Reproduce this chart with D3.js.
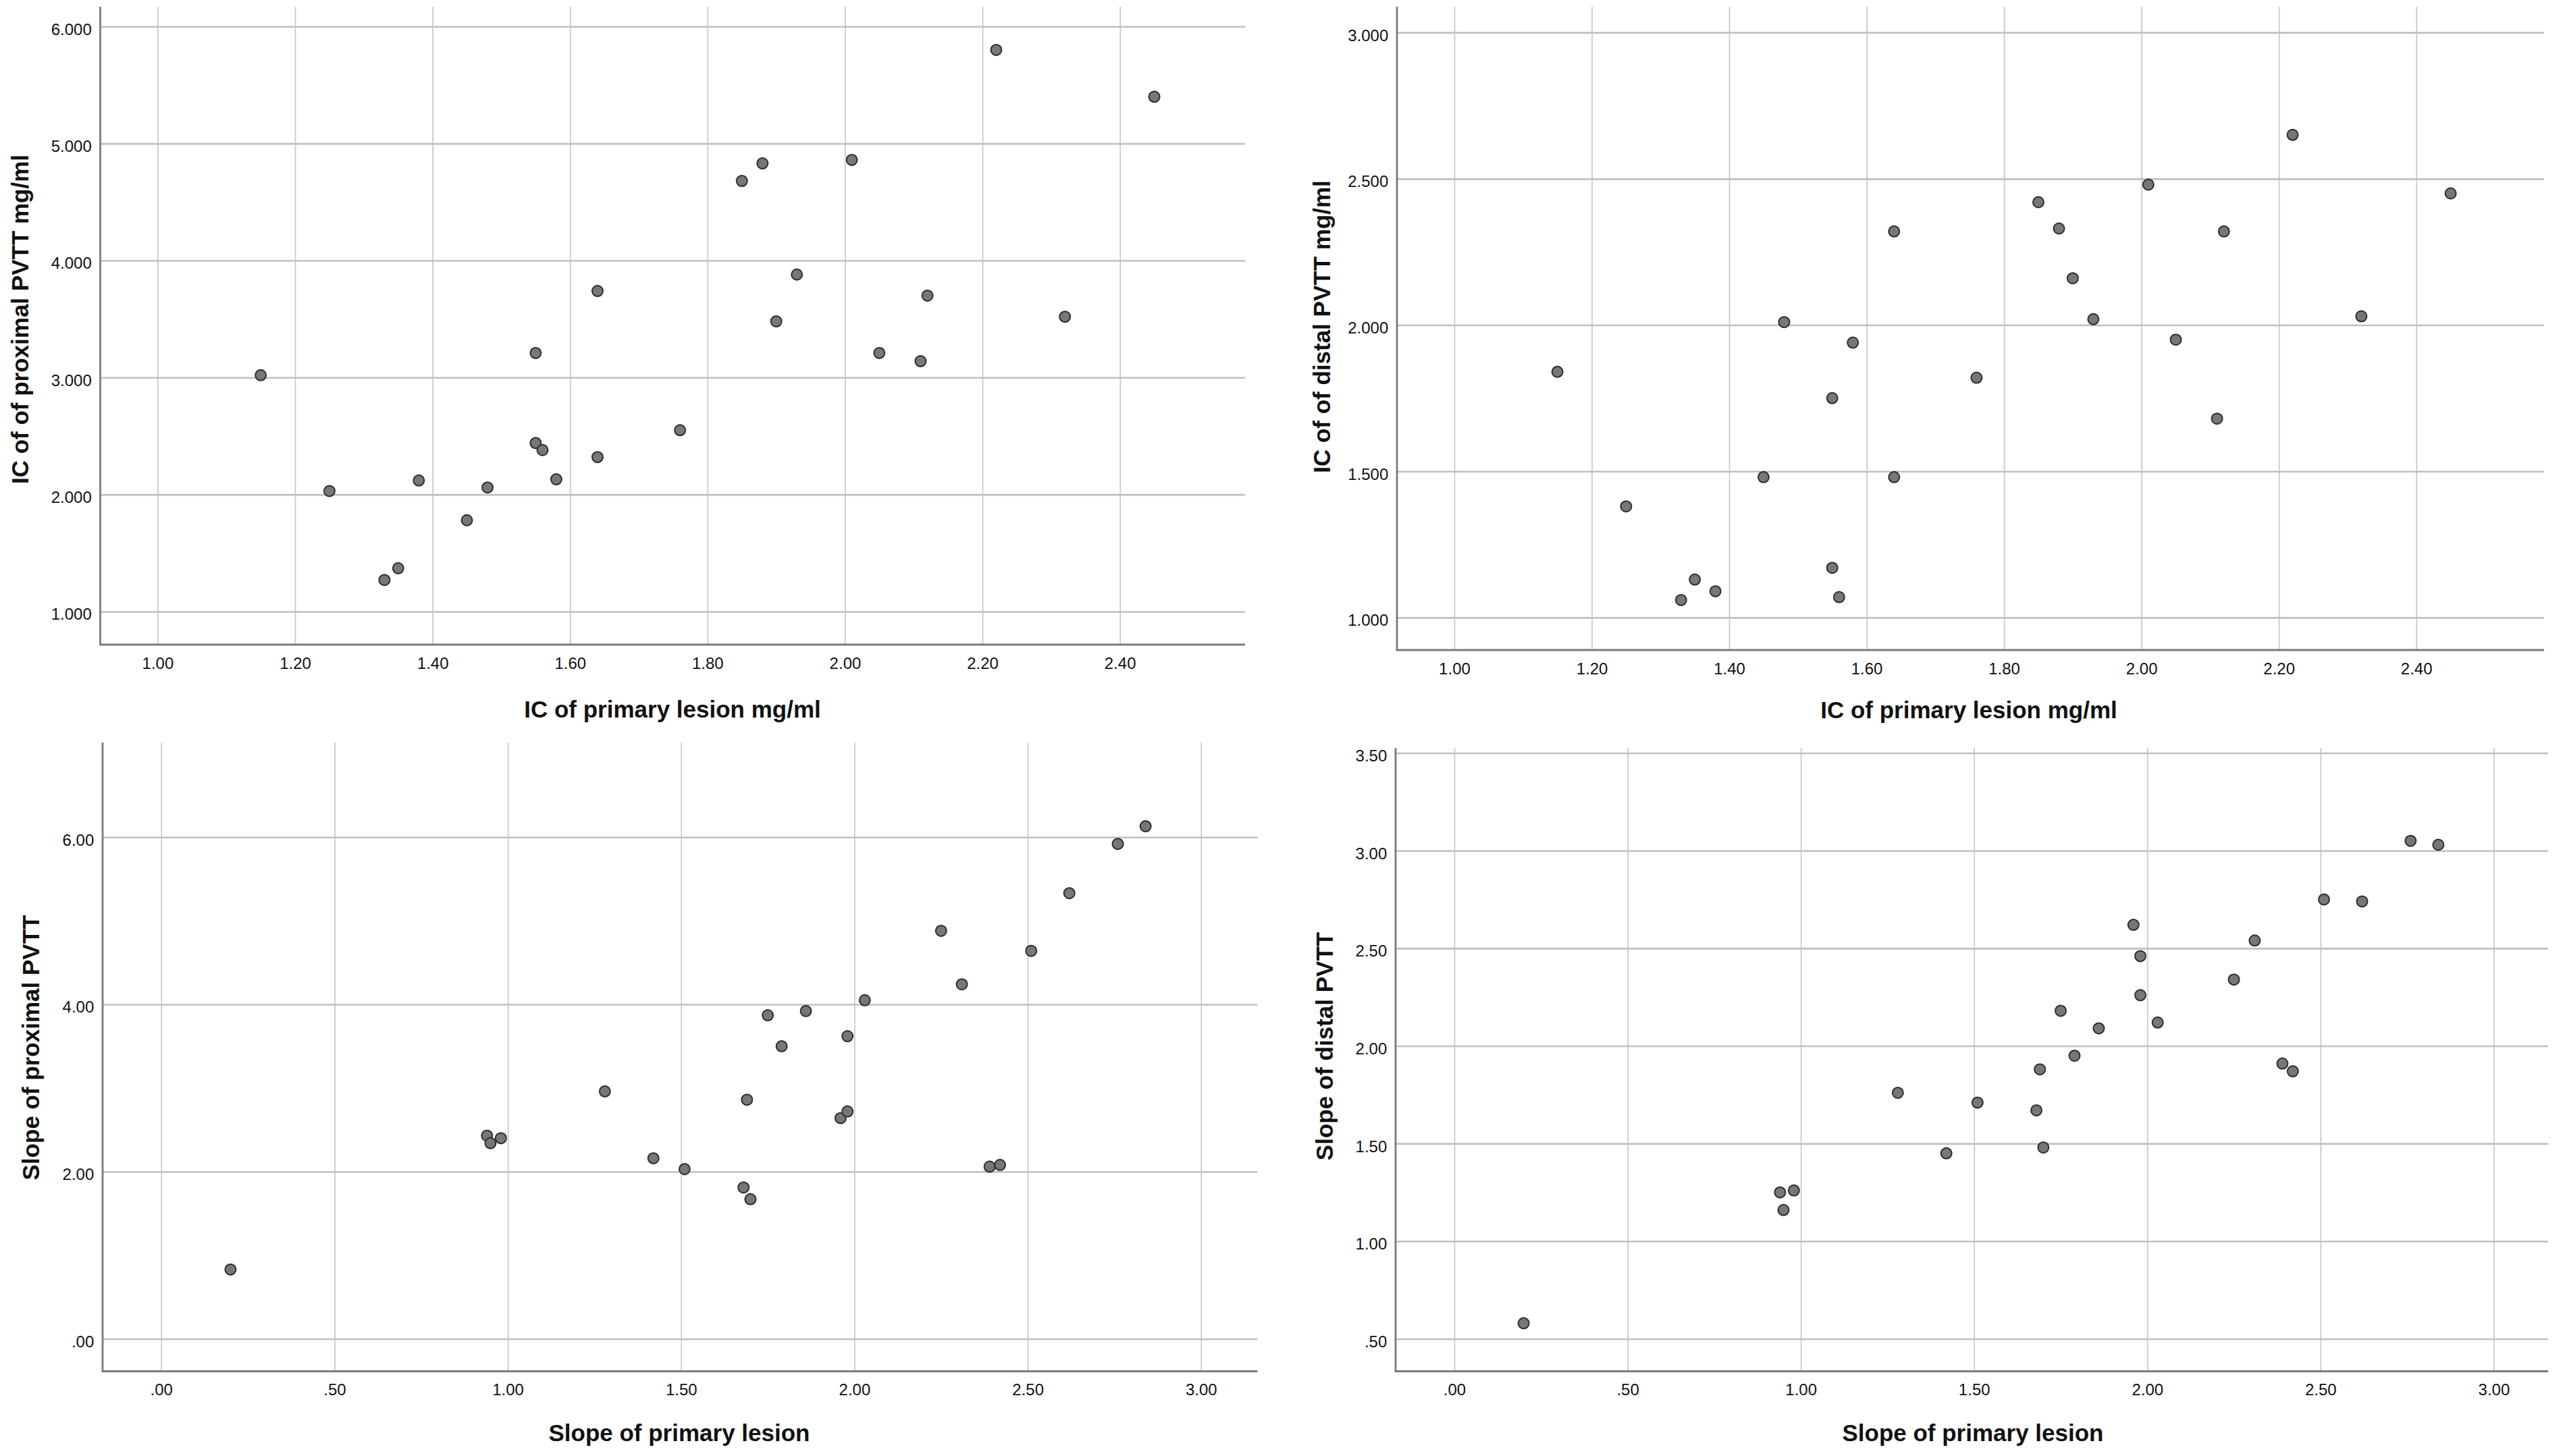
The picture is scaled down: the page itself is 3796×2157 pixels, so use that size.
<!DOCTYPE html>
<html>
<head>
<meta charset="utf-8">
<script src="https://cdnjs.cloudflare.com/ajax/libs/d3/7.8.5/d3.min.js"></script>
<style>
  body { margin: 0; background: #ffffff; }
  .tickLabel { font-family: "Liberation Sans", Arial, sans-serif; font-size: 24px; fill: #111111; }
  .axisTitle { font-family: "Liberation Sans", Arial, sans-serif; font-size: 35px; font-weight: bold; fill: #111111; }
</style>
</head>
<body>
<div id="chart"></div>
<script>

//--------------------------------------------------------------------------
//
// Data
//

var icPrimary     = [1.15, 1.25, 1.33, 1.35, 1.38, 1.45, 1.48, 1.55, 1.56, 1.55, 1.58, 1.64, 1.64,
                     1.76, 1.85, 1.88, 1.90, 1.93, 2.01, 2.05, 2.11, 2.12, 2.22, 2.32, 2.45];
var icProximal    = [3.02, 2.03, 1.27, 1.37, 2.12, 1.78, 2.06, 2.44, 2.38, 3.21, 2.13, 2.32, 3.74,
                     2.55, 4.68, 4.83, 3.48, 3.88, 4.86, 3.21, 3.14, 3.70, 5.80, 3.52, 5.40];
var icDistal      = [1.84, 1.38, 1.06, 1.13, 1.09, 1.48, 2.01, 1.75, 1.07, 1.17, 1.94, 1.48, 2.32,
                     1.82, 2.42, 2.33, 2.16, 2.02, 2.48, 1.95, 1.68, 2.32, 2.65, 2.03, 2.45];

var slopePrimary  = [0.20, 0.94, 0.95, 0.98, 1.28, 1.42, 1.51, 1.68, 1.69, 1.70, 1.75, 1.79, 1.86,
                     1.96, 1.98, 1.98, 2.03, 2.25, 2.31, 2.39, 2.42, 2.51, 2.62, 2.76, 2.84];
var slopeProximal = [0.83, 2.43, 2.34, 2.40, 2.96, 2.16, 2.03, 1.81, 2.86, 1.67, 3.87, 3.50, 3.92,
                     2.64, 2.72, 3.62, 4.05, 4.88, 4.24, 2.06, 2.08, 4.64, 5.33, 5.92, 6.13];
var slopeDistal   = [0.58, 1.25, 1.16, 1.26, 1.76, 1.45, 1.71, 1.67, 1.88, 1.48, 2.18, 1.95, 2.09,
                     2.62, 2.46, 2.26, 2.12, 2.34, 2.54, 1.91, 1.87, 2.75, 2.74, 3.05, 3.03];

var icPrimaryTicks     = [1.00, 1.20, 1.40, 1.60, 1.80, 2.00, 2.20, 2.40];
var icProximalTicks    = [1, 2, 3, 4, 5, 6];
var icDistalTicks      = [1.0, 1.5, 2.0, 2.5, 3.0];
var slopePrimaryTicks  = [0, 0.5, 1.0, 1.5, 2.0, 2.5, 3.0];
var slopeProximalTicks = [0, 2, 4, 6];
var slopeDistalTicks   = [0.5, 1.0, 1.5, 2.0, 2.5, 3.0, 3.5];

//--------------------------------------------------------------------------
//
// Panel geometry
//

var panels = [
  { xs: icPrimary, ys: icProximal, xTicks: icPrimaryTicks, yTicks: icProximalTicks,
    xFormat: ".2f", yFormat: ".3f",
    xTitle: "IC of primary lesion mg/ml", yTitle: "IC of of proximal PVTT mg/ml",
    left: 148.5, right: 1844, top: 10, bottom: 955,
    xDomain: [0.9166, 2.582], yDomain: [0.717, 6.169],
    xTitleX: 996, xTitleY: 1063, yTitleX: 41.5, yTitleY: 473 },
  { xs: icPrimary, ys: icDistal, xTicks: icPrimaryTicks, yTicks: icDistalTicks,
    xFormat: ".2f", yFormat: ".3f",
    xTitle: "IC of primary lesion mg/ml", yTitle: "IC of of distal PVTT mg/ml",
    left: 2069, right: 3768, top: 10, bottom: 963,
    xDomain: [0.9165, 2.586], yDomain: [0.889, 3.088],
    xTitleX: 2916, xTitleY: 1064, yTitleX: 1970, yTitleY: 484 },
  { xs: slopePrimary, ys: slopeProximal, xTicks: slopePrimaryTicks, yTicks: slopeProximalTicks,
    xFormat: ".2f", yFormat: ".2f",
    xTitle: "Slope of primary lesion", yTitle: "Slope of proximal PVTT",
    left: 152, right: 1862.5, top: 1100, bottom: 2031.5,
    xDomain: [-0.169, 3.163], yDomain: [-0.388, 7.132],
    xTitleX: 1006, xTitleY: 2135, yTitleX: 58, yTitleY: 1552 },
  { xs: slopePrimary, ys: slopeDistal, xTicks: slopePrimaryTicks, yTicks: slopeDistalTicks,
    xFormat: ".2f", yFormat: ".2f",
    xTitle: "Slope of primary lesion", yTitle: "Slope of distal PVTT",
    left: 2067, right: 3774, top: 1108, bottom: 2031.5,
    xDomain: [-0.1696, 3.157], yDomain: [0.334, 3.526],
    xTitleX: 2922, xTitleY: 2135, yTitleX: 1974, yTitleY: 1550 }
];

// SPSS drops the leading zero: 0.50 -> .50
function spssFormat(spec) {
  var f = d3.format(spec);
  return function(v) { return f(v).replace(/^(-?)0\./, "$1."); };
}

var svg = d3.select("#chart").append("svg")
    .attr("width", 3796)
    .attr("height", 2157)
    .style("display", "block");

panels.forEach(function(p) {

  var width = p.right - p.left;
  var height = p.bottom - p.top;

  var x = d3.scaleLinear().domain(p.xDomain).range([p.left, p.right]);
  var y = d3.scaleLinear().domain(p.yDomain).range([p.bottom, p.top]);

  var g = svg.append("g");

  // vertical grid + x tick labels
  var xAxis = g.append("g")
      .attr("transform", "translate(0," + p.bottom + ")")
      .call(d3.axisBottom(x)
        .tickValues(p.xTicks)
        .tickFormat(spssFormat(p.xFormat))
        .tickSizeInner(-height)
        .tickSizeOuter(0)
        .tickPadding(18.7));
  xAxis.select(".domain").remove();
  xAxis.selectAll(".tick line")
      .attr("stroke", "#c8c8c8")
      .attr("stroke-width", 1.7);
  xAxis.selectAll(".tick text")
      .attr("class", "tickLabel")
      .attr("font-family", null)
      .attr("font-size", null);

  // horizontal grid + y tick labels
  var yAxis = g.append("g")
      .attr("transform", "translate(" + p.left + ",0)")
      .call(d3.axisLeft(y)
        .tickValues(p.yTicks)
        .tickFormat(spssFormat(p.yFormat))
        .tickSizeInner(-width)
        .tickSizeOuter(0)
        .tickPadding(12.7));
  yAxis.select(".domain").remove();
  yAxis.selectAll(".tick line")
      .attr("stroke", "#c0c0c0")
      .attr("stroke-width", 2.6);
  yAxis.selectAll(".tick text")
      .attr("class", "tickLabel")
      .attr("dy", "0.5em");
  g.selectAll("g").attr("font-family", null).attr("font-size", null);

  // axis lines
  g.append("line")
      .attr("x1", p.left).attr("x2", p.left)
      .attr("y1", p.top).attr("y2", p.bottom)
      .attr("stroke", "#7a7a7a")
      .attr("stroke-width", 2.8);
  g.append("line")
      .attr("x1", p.left - 1.4).attr("x2", p.right)
      .attr("y1", p.bottom).attr("y2", p.bottom)
      .attr("stroke", "#7a7a7a")
      .attr("stroke-width", 2.8);

  // points
  g.append("g").selectAll("circle")
      .data(d3.zip(p.xs, p.ys))
      .join("circle")
      .attr("cx", function(d) { return x(d[0]); })
      .attr("cy", function(d) { return y(d[1]); })
      .attr("r", 8)
      .attr("fill", "#777777")
      .attr("stroke", "#2e2e2e")
      .attr("stroke-width", 2);

  // titles
  g.append("text")
      .attr("class", "axisTitle")
      .attr("x", p.xTitleX)
      .attr("y", p.xTitleY)
      .attr("text-anchor", "middle")
      .text(p.xTitle);
  g.append("text")
      .attr("class", "axisTitle")
      .attr("transform", "translate(" + p.yTitleX + "," + p.yTitleY + ") rotate(-90)")
      .attr("text-anchor", "middle")
      .text(p.yTitle);
});

</script>
</body>
</html>
